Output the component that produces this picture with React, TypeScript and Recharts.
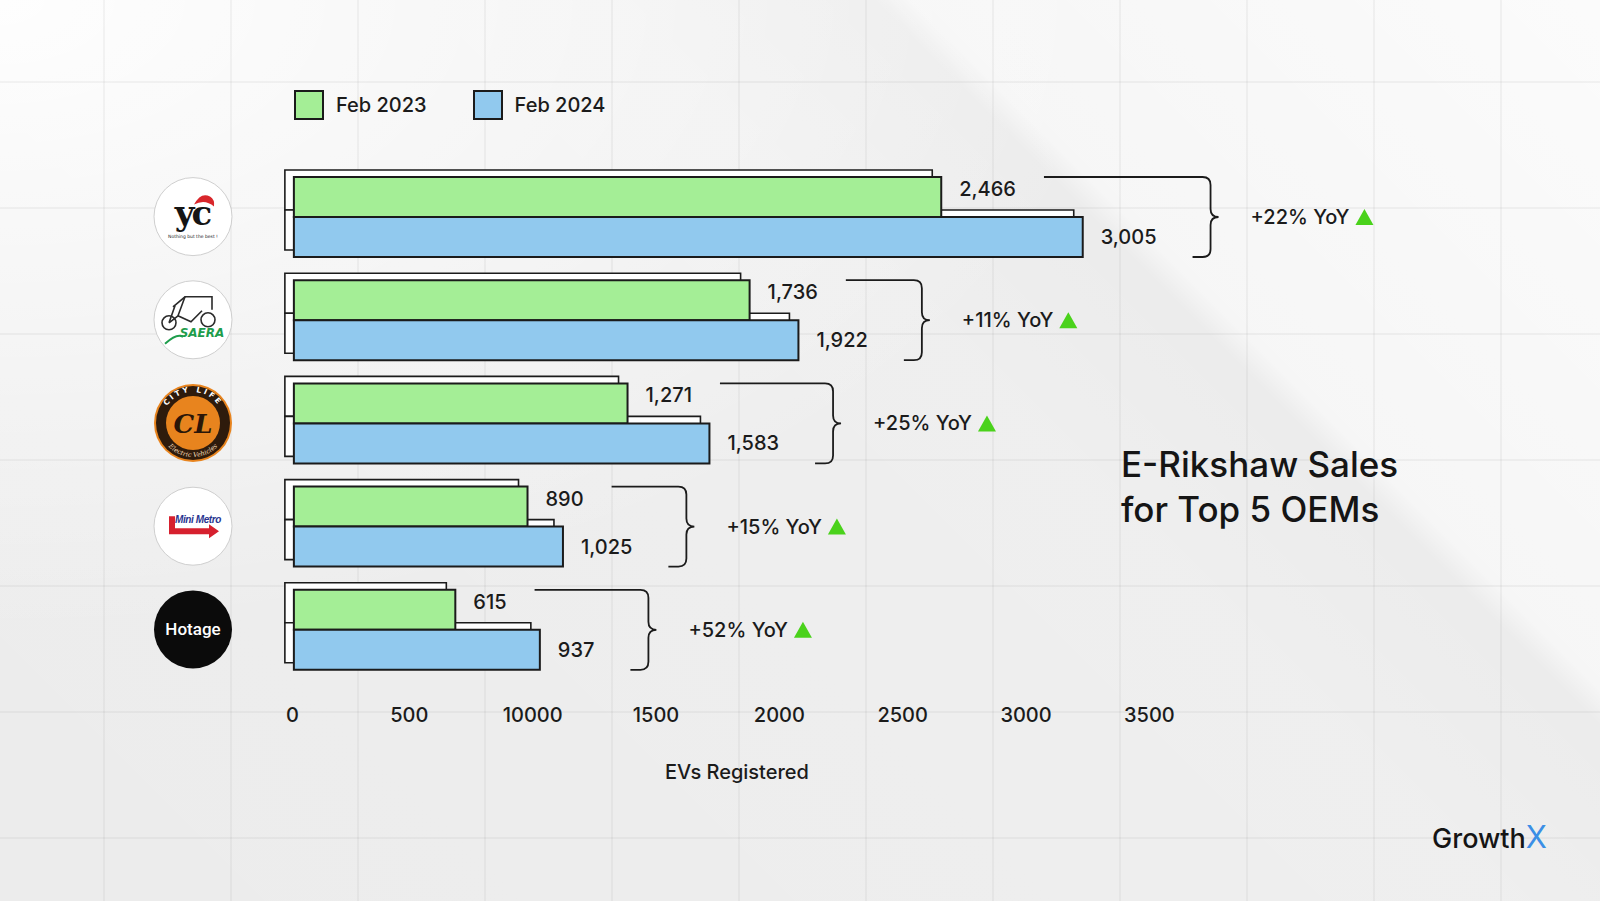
import { BarChart, Bar, XAxis, YAxis, LabelList, Legend } from "recharts";

// values
const oems = ["YC Electric", "Saera", "City Life", "Mini Metro", "Hotage"];
const feb2023 = [2466, 1736, 1271, 890, 615];
const feb2024 = [3005, 1922, 1583, 1025, 937];
const yoyLabels = ["+22% YoY", "+11% YoY", "+25% YoY", "+15% YoY", "+52% YoY"];
const axisTicks = [0, 500, 1000, 1500, 2000, 2500, 3000, 3500];
const tickLabels = ["0", "500", "10000", "1500", "2000", "2500", "3000", "3500"];

const data = oems.map((oem, i) => ({ oem, feb2023: feb2023[i], feb2024: feb2024[i] }));

const W = 1600;
const H = 901;
const FONT = "Inter, 'Open Sans', sans-serif";
const INK = "#1b1b1b";
const GREEN = "#a4ee96";
const BLUE = "#91c9ee";
const UP = "#4ad21b";

const Y_AXIS_W = 286;
const X_AXIS_H = 60;
const mainMargin = { top: 165, right: 386, bottom: 160, left: 0 };
const shadowMargin = { top: 165, right: 386, bottom: 160 + X_AXIS_H, left: Y_AXIS_W };
const barDomain: [number, number] = [-30, 3505];
const tickDomain: [number, number] = [0, 3762];

let ctx: CanvasRenderingContext2D | null = null;
function textWidth(s: string, size = 20) {
  if (!ctx) ctx = document.createElement("canvas").getContext("2d");
  if (!ctx) return s.length * size * 0.6;
  ctx.font = `500 ${size}px Inter`;
  return ctx.measureText(s).width;
}

const fmt = (v: number) => Number(v).toLocaleString("en-US");
const LABEL_GAP = 18;

function GreenValue(props: any) {
  const { x, y, width, height, value } = props;
  return (
    <text
      x={Number(x) + Number(width) + LABEL_GAP}
      y={Number(y) + Number(height) / 2 - 8}
      dominantBaseline="central"
      fill={INK}
      fontSize={20}
      fontWeight={500}
      fontFamily={FONT}
    >
      {fmt(value)}
    </text>
  );
}

function BlueValue(props: any) {
  const { x, y, width, height, value, index } = props;
  const i = typeof index === "number" ? index : feb2024.indexOf(Number(value));
  const bx0 = Number(x);
  const w = Number(width);
  const h = Number(height);
  const top = Number(y) - h;
  const mid = Number(y);
  const bottom = Number(y) + h;
  const label = fmt(value);
  const end = bx0 + w;
  const greenEnd = bx0 + (w * feb2023[i]) / Number(value);
  const lineStart = greenEnd + LABEL_GAP + textWidth(fmt(feb2023[i])) + 28;
  const bx = end + LABEL_GAP + textWidth(label) + 54;
  const r = 8;
  const tip = 8;
  const d = `M${lineStart},${top} H${bx - r} Q${bx},${top} ${bx},${top + r} V${mid - r} Q${bx},${mid} ${bx + tip},${mid} Q${bx},${mid} ${bx},${mid + r} V${bottom - r} Q${bx},${bottom} ${bx - r},${bottom} H${bx - 18}`;
  const tx = bx + 40;
  const t0 = tx + textWidth(yoyLabels[i]) + 6;
  return (
    <g>
      <text
        x={end + LABEL_GAP}
        y={mid + h / 2}
        dominantBaseline="central"
        fill={INK}
        fontSize={20}
        fontWeight={500}
        fontFamily={FONT}
      >
        {label}
      </text>
      <path d={d} fill="none" stroke={INK} strokeWidth={1.8} />
      <text x={tx} y={mid} dominantBaseline="central" fill={INK} fontSize={20} fontWeight={500} fontFamily={FONT}>
        {yoyLabels[i]}
      </text>
      <polygon points={`${t0},${mid + 8} ${t0 + 9},${mid - 8} ${t0 + 18},${mid + 8}`} fill={UP} />
    </g>
  );
}

function AxisTick(props: any) {
  const { x, y, payload, index } = props;
  const v = payload?.value;
  const txt = tickLabels[axisTicks.indexOf(v)] ?? String(v);
  return (
    <text
      x={x}
      y={y}
      dy="0.71em"
      textAnchor={index === 0 ? "start" : "middle"}
      fill={INK}
      fontSize={20}
      fontWeight={500}
      fontFamily={FONT}
    >
      {txt}
    </text>
  );
}

function OemLogo(props: any) {
  const { x, y, payload } = props;
  const cx = Number(x) - 93;
  const cy = Number(y);
  const name = payload?.value;
  if (name === "YC Electric") {
    return (
      <g>
        <circle cx={cx} cy={cy} r={39} fill="#fff" stroke="#cfcfcf" />
        <path
          d={`M${cx + 1},${cy - 12} Q${cx + 8},${cy - 25} ${cx + 17},${cy - 20} Q${cx + 22},${cy - 17} ${cx + 21},${cy - 10} Q${cx + 12},${cy - 18} ${cx + 1},${cy - 12} Z`}
          fill="#d8262b"
        />
        <text x={cx - 1} y={cy + 8} textAnchor="middle" fontFamily="'DejaVu Serif', serif" fontWeight={700} fontSize={34} letterSpacing={-3} fill="#151515">
          yc
        </text>
        <text x={cx} y={cy + 21} textAnchor="middle" fontFamily="'DejaVu Sans'" fontSize={4.5} fill="#222">
          Nothing but the best !
        </text>
      </g>
    );
  }
  if (name === "Saera") {
    return (
      <g>
        <circle cx={cx} cy={cy} r={39} fill="#fff" stroke="#cfcfcf" />
        <g fill="none" stroke="#2b2b2b" strokeWidth={1.6}>
          <circle cx={cx - 24} cy={cy + 3} r={7} />
          <circle cx={cx + 15} cy={cy} r={7} />
          <path d={`M${cx - 20},${cy - 13} L${cx - 8},${cy - 23} L${cx + 19},${cy - 23} L${cx + 19},${cy - 10}`} />
          <path d={`M${cx - 8},${cy - 23} L${cx - 15},${cy - 4} L${cx - 2},${cy + 2} L${cx + 9},${cy - 9}`} />
          <path d={`M${cx - 24},${cy + 3} L${cx - 18},${cy - 14} M${cx - 15},${cy - 4} L${cx - 24},${cy + 3}`} />
        </g>
        <path d={`M${cx - 28},${cy + 24} Q${cx - 16},${cy + 13} ${cx - 10},${cy + 17}`} fill="none" stroke="#1e9d4c" strokeWidth={2} />
        <text x={cx + 9} y={cy + 17} textAnchor="middle" fontFamily="'DejaVu Sans'" fontStyle="italic" fontWeight={700} fontSize={12} fill="#1e9d4c">
          SAERA
        </text>
      </g>
    );
  }
  if (name === "City Life") {
    return (
      <g>
        <circle cx={cx} cy={cy} r={39} fill="#e8841e" />
        <circle cx={cx} cy={cy} r={37} fill="#2e1b0c" />
        <circle cx={cx} cy={cy} r={27} fill="#e8841e" />
        <defs>
          <path id="cl-arc-top" d={`M${cx - 31},${cy} A31,31 0 0 1 ${cx + 31},${cy}`} />
          <path id="cl-arc-bottom" d={`M${cx - 34},${cy} A34,34 0 0 0 ${cx + 34},${cy}`} />
        </defs>
        <text fontFamily="'DejaVu Sans'" fontWeight={700} fontSize={7.5} fill="#fff" letterSpacing={2.5}>
          <textPath href="#cl-arc-top" startOffset="50%" textAnchor="middle">
            CITY LIFE
          </textPath>
        </text>
        <text fontFamily="'DejaVu Serif'" fontStyle="italic" fontSize={6.5} fill="#f5dcb8">
          <textPath href="#cl-arc-bottom" startOffset="50%" textAnchor="middle">
            Electric Vehicles
          </textPath>
        </text>
        <text x={cx} y={cy + 10} textAnchor="middle" fontFamily="'DejaVu Serif', serif" fontStyle="italic" fontWeight={700} fontSize={26} fill="#2a1608">
          CL
        </text>
      </g>
    );
  }
  if (name === "Mini Metro") {
    return (
      <g>
        <circle cx={cx} cy={cy} r={39} fill="#fff" stroke="#cfcfcf" />
        <path
          d={`M${cx - 24},${cy - 10} L${cx - 18},${cy - 10} L${cx - 18},${cy + 2} L${cx + 16},${cy + 2} L${cx + 16},${cy - 2} L${cx + 26},${cy + 5} L${cx + 16},${cy + 12} L${cx + 16},${cy + 8} L${cx - 24},${cy + 8} Z`}
          fill="#d6202e"
        />
        <text x={cx + 5} y={cy - 3} textAnchor="middle" fontFamily="'Liberation Sans Narrow', 'Liberation Sans', sans-serif" fontStyle="italic" fontWeight={700} fontSize={10} letterSpacing={-0.4} fill="#2a3590">
          Mini Metro
        </text>
      </g>
    );
  }
  return (
    <g>
      <circle cx={cx} cy={cy} r={39} fill="#0b0b0b" />
      <text x={cx} y={cy + 6} textAnchor="middle" fontFamily="Roboto, 'DejaVu Sans'" fontWeight={500} fontSize={17} fill="#fff">
        Hotage
      </text>
    </g>
  );
}

function LegendContent(props: any) {
  const items = props.payload || [];
  return (
    <div style={{ display: "flex", alignItems: "center", fontFamily: FONT, fontSize: 20, fontWeight: 500, color: INK }}>
      {items.map((e: any) => (
        <div key={e.value} style={{ display: "flex", alignItems: "center", marginRight: 46 }}>
          <span
            style={{
              display: "inline-block",
              width: 26,
              height: 26,
              background: e.color,
              border: `2px solid ${INK}`,
              marginRight: 12,
            }}
          />
          {e.value}
        </div>
      ))}
    </div>
  );
}

export default function App() {
  return (
    <div
      style={{
        position: "absolute",
        left: 0,
        top: 0,
        width: W,
        height: H,
        overflow: "hidden",
        backgroundColor: "#ececec",
        backgroundImage: [
          "linear-gradient(to right, rgba(0,0,0,0.04) 2px, transparent 2px)",
          "linear-gradient(to bottom, rgba(0,0,0,0.04) 2px, transparent 2px)",
          "radial-gradient(ellipse at 0% 0%, rgba(255,255,255,0.95) 0%, rgba(255,255,255,0) 50%)",
          "linear-gradient(45deg, rgba(255,255,255,0) 0%, rgba(255,255,255,0.15) 60%, rgba(255,255,255,0) 71%, rgba(255,255,255,0.55) 72.5%, rgba(255,255,255,0.8) 100%)",
        ].join(","),
        backgroundSize: "127px 127px, 127px 126px, 100% 100%, 100% 100%",
        backgroundPosition: "103px 0, 0 81px, 0 0, 0 0",
        fontFamily: FONT,
      }}
    >
      {/* offset outline boxes behind the bars */}
      <div style={{ position: "absolute", left: -9, top: -7 }}>
        <BarChart width={W} height={H} data={data} layout="vertical" margin={shadowMargin} barCategoryGap={12} barGap={0}>
          <XAxis xAxisId="bars" type="number" domain={barDomain} allowDataOverflow hide height={0} />
          <YAxis type="category" dataKey="oem" hide />
          <Bar xAxisId="bars" dataKey="feb2023" fill="#ffffff" stroke={INK} strokeWidth={1.6} isAnimationActive={false} />
          <Bar xAxisId="bars" dataKey="feb2024" fill="#ffffff" stroke={INK} strokeWidth={1.6} isAnimationActive={false} />
        </BarChart>
      </div>

      <div style={{ position: "absolute", left: 0, top: 0 }}>
        <BarChart width={W} height={H} data={data} layout="vertical" margin={mainMargin} barCategoryGap={12} barGap={0}>
          <XAxis xAxisId="bars" type="number" domain={barDomain} allowDataOverflow hide height={0} />
          <XAxis
            xAxisId="ticks"
            type="number"
            domain={tickDomain}
            allowDataOverflow
            ticks={axisTicks}
            interval={0}
            height={X_AXIS_H}
            tickSize={0}
            tickMargin={27}
            axisLine={false}
            tickLine={false}
            tick={(p: any) => <AxisTick {...p} />}
            label={{
              value: "EVs Registered",
              position: "bottom",
              offset: 24,
              dx: -13,
              fill: INK,
              fontSize: 20,
              fontWeight: 500,
              fontFamily: FONT,
            }}
          />
          <YAxis
            type="category"
            dataKey="oem"
            width={Y_AXIS_W}
            axisLine={false}
            tickLine={false}
            tickSize={0}
            tickMargin={0}
            interval={0}
            tick={(p: any) => <OemLogo {...p} />}
          />
          <Legend
            layout="vertical"
            align="center"
            verticalAlign="middle"
            wrapperStyle={{ top: 90, left: 294, width: 420, height: 30 }}
            content={(p: any) => <LegendContent {...p} />}
          />
          <Bar xAxisId="bars" dataKey="feb2023" name="Feb 2023" fill={GREEN} stroke={INK} strokeWidth={2} isAnimationActive={false}>
            <LabelList dataKey="feb2023" content={(p: any) => <GreenValue {...p} />} />
          </Bar>
          <Bar xAxisId="bars" dataKey="feb2024" name="Feb 2024" fill={BLUE} stroke={INK} strokeWidth={2} isAnimationActive={false}>
            <LabelList dataKey="feb2024" content={(p: any) => <BlueValue {...p} />} />
          </Bar>
        </BarChart>
      </div>

      <div
        style={{
          position: "absolute",
          left: 1121,
          top: 442,
          fontSize: 35,
          lineHeight: "45px",
          fontWeight: 500,
          color: "#151515",
          whiteSpace: "nowrap",
        }}
      >
        E-Rikshaw Sales
        <br />
        for Top 5 OEMs
      </div>

      <div
        style={{
          position: "absolute",
          right: 53,
          top: 821,
          fontSize: 27,
          lineHeight: "32px",
          fontWeight: 500,
          color: "#151515",
        }}
      >
        Growth<span style={{ color: "#3b8fe6", fontWeight: 400, fontSize: 31 }}>X</span>
      </div>
    </div>
  );
}
